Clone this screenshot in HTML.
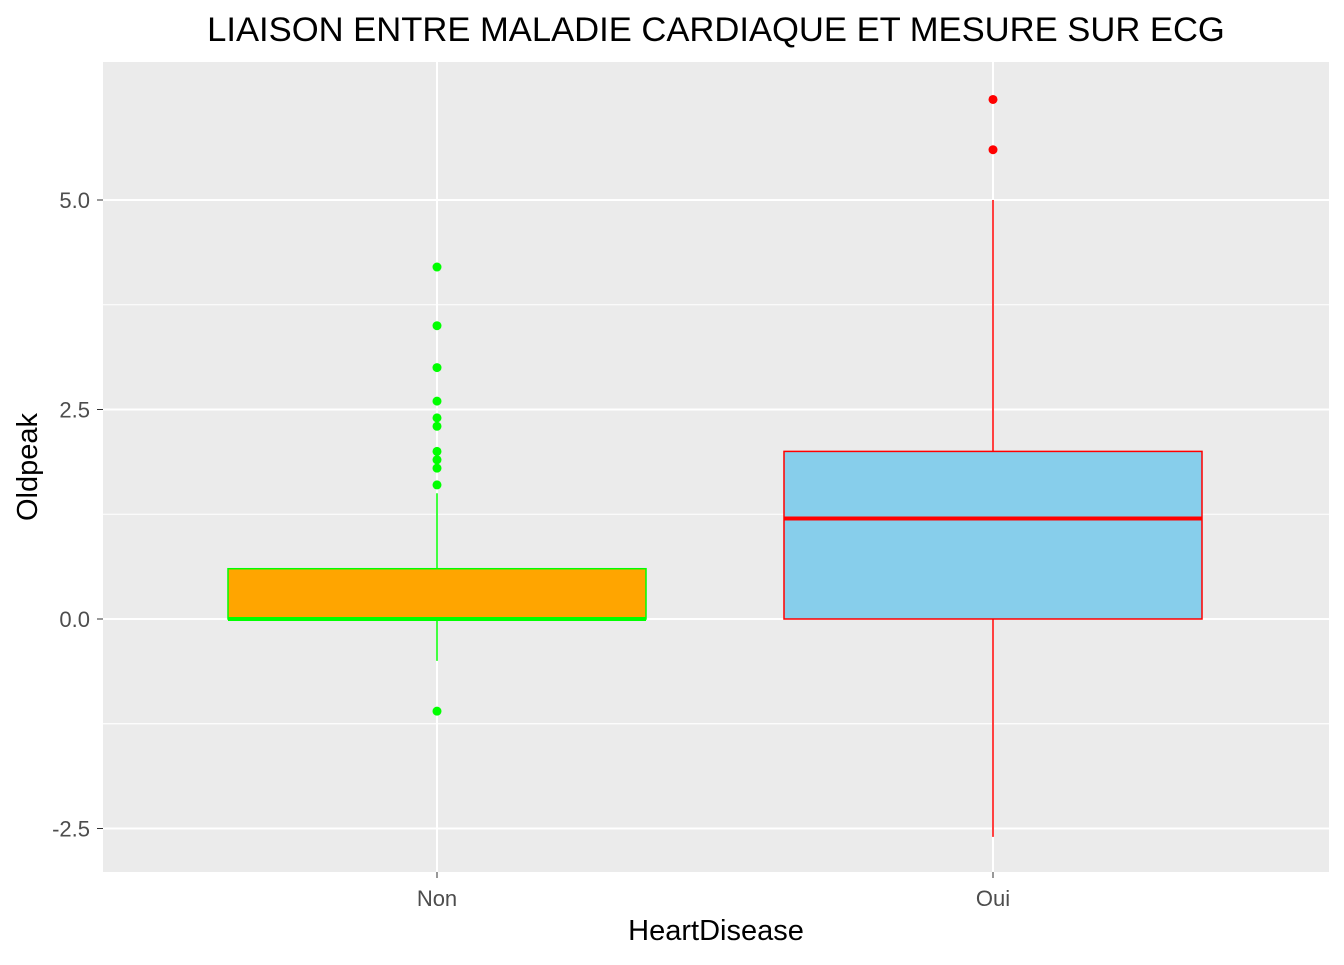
<!DOCTYPE html>
<html><head><meta charset="utf-8"><style>
body{margin:0;background:#fff;font-family:"Liberation Sans",sans-serif;}
svg text{font-family:"Liberation Sans",sans-serif;}
</style></head><body>
<svg id="chart" width="1344" height="960">
<text x="716" y="41" font-size="34.6" text-anchor="middle" fill="#000">LIAISON ENTRE MALADIE CARDIAQUE ET MESURE SUR ECG</text>
<rect x="103" y="62" width="1226" height="810" fill="#ebebeb"/>
<g id="grid"></g><g id="marks"></g><g id="axes"></g>
<text x="716" y="940" font-size="29" text-anchor="middle" fill="#000">HeartDisease</text>
<text transform="translate(37,467) rotate(-90)" font-size="29" text-anchor="middle" fill="#000">Oldpeak</text>
</svg>
<script>
const categories=["Non","Oui"];
const q1=[0,0];
const medians=[0,1.2];
const q3=[0.6,2.0];
const whiskLow=[-0.5,-2.6];
const whiskHigh=[1.5,5.0];
const outliersNon=[4.2,3.5,3.0,2.6,2.4,2.3,2.0,1.9,1.8,1.6,-1.1];
const outliersOui=[6.2,5.6];
const yTicks=[-2.5,0,2.5,5.0];
const yTickLabels=["-2.5","0.0","2.5","5.0"];
const fills=["#FFA500","#87CEEB"];
const strokes=["#00FF00","#FF0000"];
const NS="http://www.w3.org/2000/svg";
const y=v=>619-v*83.8;
const x=i=>437+i*556;
function mk(tag,attrs,parent){const e=document.createElementNS(NS,tag);for(const k in attrs)e.setAttribute(k,attrs[k]);document.getElementById(parent).appendChild(e);return e;}
for(let k=0;k<yTicks.length;k++){
 const v=yTicks[k];
 let g=mk("line",{x1:103,x2:1329,y1:y(v),y2:y(v),stroke:"#fff","stroke-width":2},"grid");
 
 
 if(k<yTicks.length-1){let m=mk("line",{x1:103,x2:1329,y1:y(v+1.25),y2:y(v+1.25),stroke:"#fff","stroke-width":1},"grid");
 
 }
 let t=mk("text",{x:90,y:y(v)+8,"font-size":22,"text-anchor":"end",fill:"#4d4d4d"},"axes");t.textContent=yTickLabels[k];
 
 
 mk("line",{x1:97,x2:103,y1:y(v),y2:y(v),stroke:"#333","stroke-width":1},"axes");
}
for(const v of [-1.25]){let m=mk("line",{x1:103,x2:1329,y1:y(v),y2:y(v),stroke:"#fff","stroke-width":1},"grid");
 
 }
const outs=[outliersNon,outliersOui];
categories.forEach((c,i)=>{
 let g=mk("line",{x1:x(i),x2:x(i),y1:62,y2:872,stroke:"#fff","stroke-width":2},"grid");
 
 
 let w=mk("line",{x1:x(i),x2:x(i),y1:y(whiskHigh[i]),y2:y(whiskLow[i]),stroke:strokes[i],"stroke-width":1.5},"marks");
 
 
 let b=mk("rect",{x:x(i)-209,width:418,y:y(q3[i]),height:y(q1[i])-y(q3[i]),fill:fills[i],stroke:strokes[i],"stroke-width":1.5},"marks");
 
 
 let m=mk("line",{x1:x(i)-209,x2:x(i)+209,y1:y(medians[i]),y2:y(medians[i]),stroke:strokes[i],"stroke-width":4},"marks");
 
 
 outs[i].forEach(v=>{let p=mk("circle",{cx:x(i),cy:y(v),r:4.5,fill:strokes[i]},"marks");
 
 });
 mk("line",{x1:x(i),x2:x(i),y1:872,y2:878,stroke:"#333","stroke-width":1},"axes");
 let t=mk("text",{x:x(i),y:906,"font-size":22,"text-anchor":"middle",fill:"#4d4d4d"},"axes");t.textContent=c;
 
 
});
</script>
</body></html>
